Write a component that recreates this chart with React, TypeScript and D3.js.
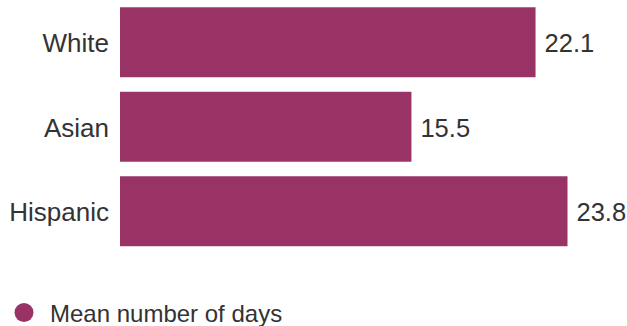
import React from "react";
import * as d3 from "d3";

const categories = ["White", "Asian", "Hispanic"];
const meanDays = [22.1, 15.5, 23.8];
const legendLabel = "Mean number of days";

const W = 627;
const H = 326;
const BAR_COLOR = "#993366";
const TEXT_COLOR = "#333333";
const FONT = "'Liberation Sans', Arial, sans-serif";

export default function App() {
  const x = d3.scaleLinear().domain([0, 23.8]).range([120, 567.5]);
  const y = d3
    .scaleBand<string>()
    .domain(categories)
    .range([0, 253.5])
    .paddingInner(0.172)
    .paddingOuter(0.086);

  return (
    <svg
      width={W}
      height={H}
      style={{ position: "absolute", left: 0, top: 0, background: "#fff" }}
    >
      {categories.map((c, i) => {
        const y0 = y(c) as number;
        const bw = y.bandwidth();
        const cy = y0 + bw / 2 + 1;
        return (
          <g key={c}>
            <rect
              x={x(0)}
              y={y0}
              width={x(meanDays[i]) - x(0)}
              height={bw}
              fill={BAR_COLOR}
            />
            <text
              x={x(0) - 11}
              y={cy}
              textAnchor="end"
              dominantBaseline="central"
              fontFamily={FONT}
              fontSize={26}
              fill={TEXT_COLOR}
            >
              {c}
            </text>
            <text
              x={x(meanDays[i]) + 9}
              y={cy}
              textAnchor="start"
              dominantBaseline="central"
              fontFamily={FONT}
              fontSize={25.5}
              fill={TEXT_COLOR}
            >
              {meanDays[i].toFixed(1)}
            </text>
          </g>
        );
      })}
      <circle cx={24} cy={312.5} r={9.5} fill={BAR_COLOR} />
      <text
        x={50}
        y={313}
        dominantBaseline="central"
        fontFamily={FONT}
        fontSize={24}
        fill={TEXT_COLOR}
      >
        {legendLabel}
      </text>
    </svg>
  );
}
